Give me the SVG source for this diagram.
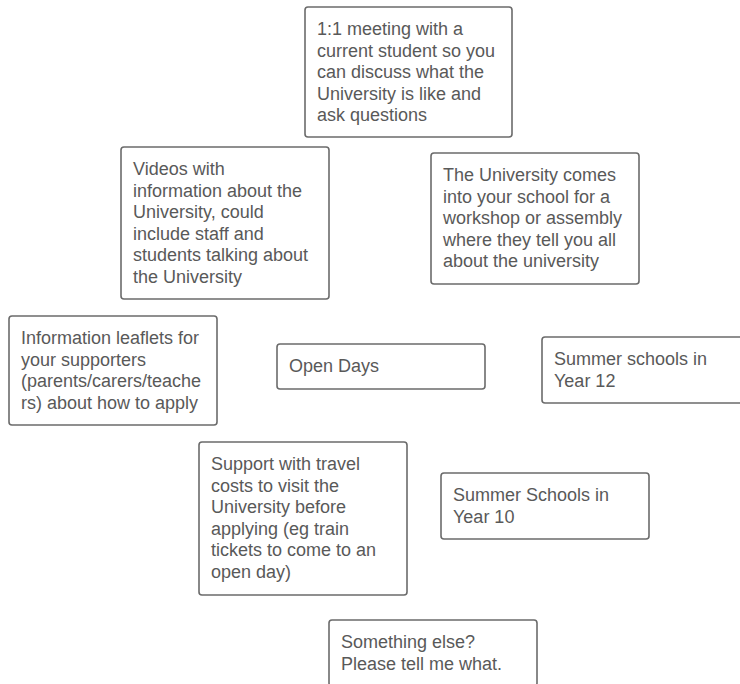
<svg xmlns="http://www.w3.org/2000/svg" width="740" height="684" viewBox="0 0 740 684">
<style>
.box{fill:#fff;stroke:#6b6b6b;stroke-width:1.6}
.t{font-family:"Liberation Sans",Arial,sans-serif;font-size:18px;fill:#595959}
</style>
<rect width="740" height="684" fill="#fff"/>
<g id="connectors"/>
<g id="n1"><rect class="box" x="305" y="7" width="207" height="130" rx="3"/>
<text class="t"><tspan x="317" y="35">1:1 meeting with a</tspan><tspan x="317" y="56.5">current student so you</tspan><tspan x="317" y="78">can discuss what the</tspan><tspan x="317" y="99.5">University is like and</tspan><tspan x="317" y="121">ask questions</tspan></text></g>
<g id="n2"><rect class="box" x="431" y="153" width="208" height="131" rx="3"/>
<text class="t"><tspan x="443" y="181">The University comes</tspan><tspan x="443" y="202.5">into your school for a</tspan><tspan x="443" y="224">workshop or assembly</tspan><tspan x="443" y="245.5">where they tell you all</tspan><tspan x="443" y="267">about the university</tspan></text></g>
<g id="n3"><rect class="box" x="121" y="147" width="208" height="152" rx="3"/>
<text class="t"><tspan x="133" y="175">Videos with</tspan><tspan x="133" y="196.5">information about the</tspan><tspan x="133" y="218">University, could</tspan><tspan x="133" y="239.5">include staff and</tspan><tspan x="133" y="261">students talking about</tspan><tspan x="133" y="282.5">the University</tspan></text></g>
<g id="n4"><rect class="box" x="9" y="316" width="208" height="109" rx="3"/>
<text class="t"><tspan x="21" y="344">Information leaflets for</tspan><tspan x="21" y="365.5">your supporters</tspan><tspan x="21" y="387">(parents/carers/teache</tspan><tspan x="21" y="408.5">rs) about how to apply</tspan></text></g>
<g id="n5"><rect class="box" x="277" y="344" width="208" height="45" rx="3"/>
<text class="t"><tspan x="289" y="372">Open Days</tspan></text></g>
<g id="n6"><rect class="box" x="542" y="337" width="208" height="66" rx="3"/>
<text class="t"><tspan x="554" y="365">Summer schools in</tspan><tspan x="554" y="386.5">Year 12</tspan></text></g>
<g id="n7"><rect class="box" x="199" y="442" width="208" height="153" rx="3"/>
<text class="t"><tspan x="211" y="470">Support with travel</tspan><tspan x="211" y="491.5">costs to visit the</tspan><tspan x="211" y="513">University before</tspan><tspan x="211" y="534.5">applying (eg train</tspan><tspan x="211" y="556">tickets to come to an</tspan><tspan x="211" y="577.5">open day)</tspan></text></g>
<g id="n8"><rect class="box" x="441" y="473" width="208" height="66" rx="3"/>
<text class="t"><tspan x="453" y="501">Summer Schools in</tspan><tspan x="453" y="522.5">Year 10</tspan></text></g>
<g id="n9"><rect class="box" x="329" y="620" width="208" height="66" rx="3"/>
<text class="t"><tspan x="341" y="648">Something else?</tspan><tspan x="341" y="669.5">Please tell me what.</tspan></text></g>
</svg>
